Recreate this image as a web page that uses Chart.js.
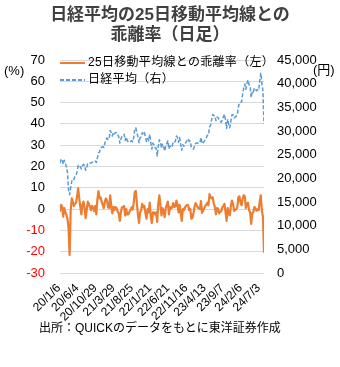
<!DOCTYPE html>
<html>
<head>
<meta charset="utf-8">
<script src="https://cdn.jsdelivr.net/npm/chart.js@4.4.1/dist/chart.umd.min.js"></script>
<style>
  html, body { margin: 0; padding: 0; background: #fff; }
  #wrap { position: relative; width: 340px; height: 367px; font-family: 'Liberation Sans', 'Noto Sans CJK JP', sans-serif; }
  #chart { position: absolute; left: 0; top: 0; }
  .t { position: absolute; white-space: nowrap; }
  #title { left: 0; width: 340px; top: 5px; text-align: center; font-weight: bold; font-size: 17px; line-height: 20px; color: #404040; }
  .unit { font-size: 13px; line-height: 16px; color: #000; }
  #legend { left: 60px; top: 54px; font-size: 12px; letter-spacing: 0.3px; color: #000; }
  #legend .row { height: 17px; line-height: 17px; display: flex; align-items: center; }
  #legend .sw { width: 25px; height: 2px; margin-right: 3px; }
  #source { left: 39px; top: 320px; font-size: 12px; line-height: 16px; color: #000; }
</style>
</head>
<body>
<div id="wrap">
  <canvas id="chart" width="340" height="367"></canvas>
  <div id="title" class="t">日経平均の25日移動平均線との<br>乖離率（日足）</div>
  <div class="t unit" style="left:4px;top:63px">(%)</div>
  <div class="t unit" style="left:313px;top:62px">(円)</div>
  <div id="legend" class="t"></div>
  <div id="source" class="t">出所：QUICKのデータをもとに東洋証券作成</div>
</div>
<script>
// one point about every 6 trading days, 2020/1/6 - 2024/8/5
const tickLabels = ['20/1/6', '20/6/4', '20/10/29', '21/3/29', '21/8/25', '22/1/21', '22/6/21', '22/11/16', '23/4/13', '23/9/7', '24/2/6', '24/7/3'];
const tickStep = 17;
const seriesNames = ['25日移動平均線との乖離率（左）', '日経平均（右）'];
const seriesColors = ['#ED7D31', '#5B9BD5'];

const kairi = [
  -1.2, 2.0, 1.2, -3.5, 0.5, -1.5, -2.5, -4.5, -9.0, -21.5, -1.0, 5.0, 3.5, 1.5, 2.5, 3.0, 6.0, 9.8,
  5.0, 1.0, -2.5, 2.0, 3.5, 0.6, -4.2, -0.5, 3.5, 2.5, 1.0, -0.5, 1.5, 0.8, -1.0, 1.5, -2.5,
  4.5, 8.5, 5.0, 5.5, 3.5, 2.0, 0.5, 3.5, 5.0, 4.0, 0.8, 0.5, 6.5, 1.5, -2.0, 1.0, -0.5,
  1.0, 0.5, -1.2, -2.0, -5.5, -1.5, 0.8, 1.0, 1.5, -3.0, 0.0, -2.5, -2.5, -1.3, -0.5, 0.8, -0.2,
  2.8, 8.0, 8.5, 2.5, -2.8, -6.5, -1.5, -0.5, 2.5, 0.8, 1.5, -2.0, -4.5, 0.0, -1.5, 3.0, -3.5,
  -6.5, -1.5, -1.5, -2.5, -1.5, -6.0, 2.5, 6.5, 2.0, -3.0, 0.5, -0.8, -3.8, 0.5, 2.0, 3.5, -2.5,
  1.0, 0.2, 0.8, 2.8, 1.0, 1.2, 4.0, 2.0, -1.5, 2.0, -1.8, -5.5, 0.0, -0.5, 0.8, 1.5, 2.0,
  1.8, -0.5, 0.0, -4.5, -4.0, -2.0, 1.2, 2.8, 1.8, 0.8, 0.3, 0.0, 3.8, -1.8, -0.6, 0.5, 1.5,
  2.0, 3.0, 1.8, 7.0, 5.5, 5.0, 5.5, 2.5, 1.0, -2.5, 0.5, 0.2, -2.0, -1.2, -1.0, 0.8, 1.5,
  2.5, -1.5, -5.5, 0.5, -2.5, -2.8, 1.5, 4.0, 2.5, -0.8, -0.5, 0.0, 0.8, 5.5, 6.0, 3.0, 1.8,
  5.0, 6.5, 6.0, 0.5, 2.5, 3.0, -0.5, -1.5, -7.0, -2.0, -1.5, 1.0, 0.3, -0.8, 0.0, -0.5, 3.5,
  6.5, -0.8, -3.5, -20.5
];

const nikkei = [
  23204, 24025, 24031, 22977, 23827, 23194, 22426, 21329, 17431, 16552, 18065, 19345, 19897, 19771, 20366, 20595, 21419, 22695,
  22305, 22478, 21995, 22614, 22945, 22751, 21710, 22329, 23097, 23296, 23247, 23235, 23360, 23511, 23434, 23627, 23331,
  24325, 25385, 25527, 26433, 26547, 26687, 26524, 27444, 28164, 28523, 28197, 28341, 30084, 29672, 28930, 29717, 29384,
  29697, 29621, 29188, 28813, 27448, 28318, 28860, 28963, 29291, 28010, 28707, 27940, 27652, 27581, 27728, 27977, 27724,
  28543, 30381, 30670, 29639, 28771, 27528, 28550, 28804, 29647, 29285, 29688, 28751, 27753, 28437, 27937, 29332, 27522,
  26170, 27440, 27079, 26449, 26393, 24717, 26653, 28149, 27736, 26335, 27217, 26847, 25748, 26739, 27369, 27943, 26246,
  26805, 26490, 26788, 27699, 27594, 27819, 28942, 28641, 27619, 28614, 27153, 25937, 27116, 26775, 27250, 27663, 28028,
  28383, 27777, 27842, 26568, 26340, 26175, 26791, 27362, 27509, 27427, 27473, 27516, 28623, 27334, 27476, 27813, 28157,
  28564, 29123, 29126, 30808, 31233, 32506, 33502, 33265, 33189, 32189, 32896, 32891, 32193, 32059, 31856, 32333, 32991,
  33533, 32315, 30526, 32494, 31259, 30697, 32166, 33424, 33447, 32775, 32926, 33141, 33464, 35049, 35963, 36026, 36160,
  37703, 39098, 39910, 38820, 40003, 40762, 39773, 39523, 37068, 38405, 38229, 39069, 38855, 38490, 38720, 38596, 40580,
  42224, 40063, 38468, 31458
];

// legend drawn inside the plot area like the original
const legend = document.getElementById('legend');
seriesNames.forEach((name, k) => {
  const row = document.createElement('div');
  row.className = 'row';
  const sw = document.createElement('span');
  sw.className = 'sw';
  sw.style.background = k === 0
    ? seriesColors[0]
    : 'repeating-linear-gradient(90deg,' + seriesColors[1] + ' 0 4px,transparent 4px 6px)';
  const label = document.createElement('span');
  label.textContent = name;
  row.appendChild(sw);
  row.appendChild(label);
  legend.appendChild(row);
});

Chart.defaults.font.family = "'Liberation Sans', 'Noto Sans CJK JP', sans-serif";
Chart.defaults.color = '#000';

const ctx = document.getElementById('chart').getContext('2d');
new Chart(ctx, {
  type: 'line',
  data: {
    datasets: [{
      label: seriesNames[0],
      data: kairi.map((v, i) => ({ x: i, y: v })),
      borderColor: seriesColors[0],
      borderWidth: 2.2,
      borderJoinStyle: 'round',
      pointRadius: 0,
      yAxisID: 'y'
    }, {
      label: seriesNames[1],
      data: nikkei.map((v, i) => ({ x: i, y: v })),
      borderColor: seriesColors[1],
      borderWidth: 1.5,
      borderDash: [4, 2],
      borderJoinStyle: 'round',
      pointRadius: 0,
      yAxisID: 'y1'
    }]
  },
  options: {
    responsive: false,
    animation: false,
    devicePixelRatio: 1,
    layout: { padding: { top: 60, bottom: 44, left: 0, right: 0 } },
    plugins: {
      legend: { display: false },
      tooltip: { enabled: false }
    },
    scales: {
      x: {
        type: 'linear',
        min: 0,
        max: nikkei.length - 1,
        afterBuildTicks: (axis) => {
          axis.ticks = tickLabels.map((t, k) => ({ value: k * tickStep }));
        },
        afterFit: (axis) => { axis.height = 50; },
        ticks: {
          autoSkip: false,
          minRotation: 45,
          maxRotation: 45,
          padding: 0,
          labelOffset: -1,
          font: { size: 12 },
          callback: (v) => tickLabels[v / tickStep] ?? ''
        },
        grid: { display: false },
        border: { display: false }
      },
      y: {
        position: 'left',
        min: -30,
        max: 70,
        afterFit: (axis) => { axis.width = 60; },
        ticks: {
          stepSize: 10,
          padding: 15,
          font: { size: 13 },
          color: (c) => c.tick.value < 0 ? '#FF0000' : '#000000'
        },
        grid: { color: '#D9D9D9', drawTicks: false },
        border: { display: false }
      },
      y1: {
        position: 'right',
        min: 0,
        max: 45000,
        afterFit: (axis) => { axis.width = 76; },
        ticks: {
          stepSize: 5000,
          padding: 13,
          font: { size: 13 },
          callback: (v) => v.toLocaleString('en-US')
        },
        grid: { display: false, drawTicks: false },
        border: { display: false }
      }
    }
  }
});
</script>
</body>
</html>
